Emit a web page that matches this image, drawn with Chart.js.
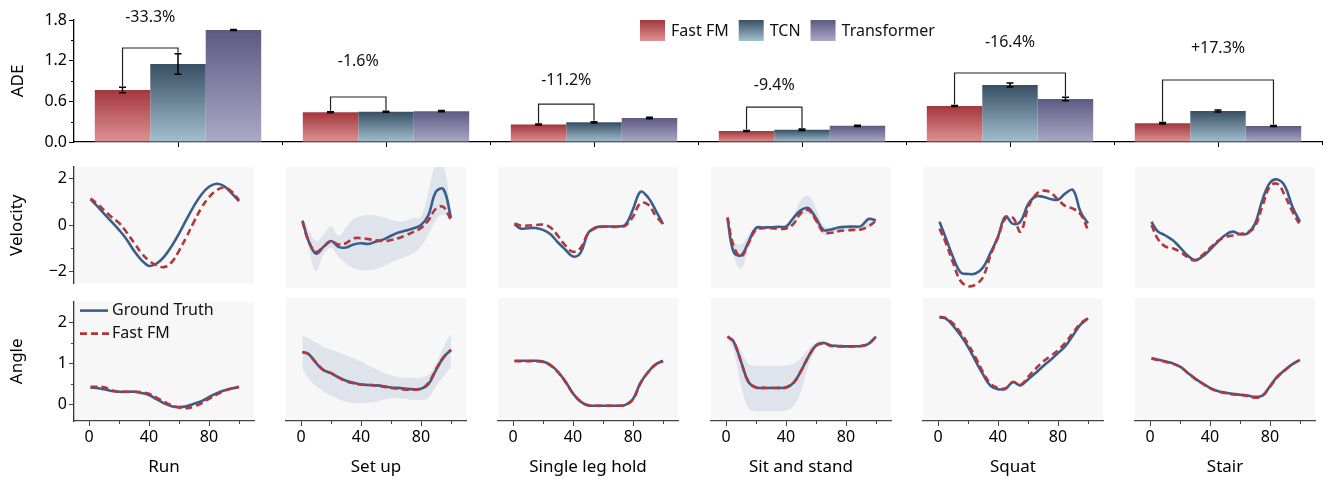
<!DOCTYPE html>
<html>
<head>
<meta charset="utf-8">
<script src="https://cdn.jsdelivr.net/npm/chart.js@4.4.1/dist/chart.umd.min.js"></script>
<style>
  body { margin: 0; background: #fff; }
  #wrap { position: relative; width: 1336px; height: 485px; overflow: hidden; }
  canvas { position: absolute; }
</style>
</head>
<body>
<div id="wrap">
  <canvas id="bars" width="1336" height="160" style="left:0;top:0"></canvas>
</div>
<script>
// ---- bar chart data (ADE) ----
var categories = ['Run', 'Set up', 'Single leg hold', 'Sit and stand', 'Squat', 'Stair'];
var methods = ['Fast FM', 'TCN', 'Transformer'];
var fastFM = [0.767, 0.44, 0.258, 0.163, 0.531, 0.277];
var tcn = [1.151, 0.447, 0.29, 0.18, 0.841, 0.457];
var transformer = [1.652, 0.455, 0.355, 0.238, 0.634, 0.236];
var fastFMErr = [0.04, 0.008, 0.008, 0.008, 0.008, 0.01];
var tcnErr = [0.15, 0.008, 0.01, 0.01, 0.03, 0.015];
var transformerErr = [0.006, 0.008, 0.012, 0.008, 0.025, 0.008];
var yTicksTop = [0, 0.6, 1.2, 1.8];
// which bar Fast FM is compared with, and the change written above the bracket
var compareWith = [1, 1, 1, 1, 2, 2];
var changeLabels = ['-33.3%', '-1.6%', '-11.2%', '-9.4%', '-16.4%', '+17.3%'];
var bracketLevel = [1.387, 0.664, 0.56, 0.516, 1.018, 0.915];
var labelLevel = [1.844, 1.195, 0.915, 0.84, 1.475, 1.387];

// ---- trajectories (% of motion) ----
var frame = [1, 5, 10, 15, 20, 25, 30, 35, 40, 45, 50, 55, 60, 65, 70, 75, 80, 85, 90, 95, 100];
var xTicks = [0, 40, 80];

var runVelGT = [1.11, 0.85, 0.5, 0.15, -0.2, -0.6, -1.1, -1.5, -1.75, -1.65, -1.36, -0.91, -0.36, 0.25, 0.83, 1.32, 1.65, 1.78, 1.68, 1.38, 1.03];
var runVelFM = [1.15, 0.95, 0.65, 0.35, 0.1, -0.3, -0.75, -1.2, -1.52, -1.72, -1.8, -1.6, -1.1, -0.5, 0.15, 0.75, 1.2, 1.5, 1.62, 1.45, 1.08];
var runAngGT = [0.41, 0.4, 0.37, 0.33, 0.31, 0.31, 0.31, 0.28, 0.23, 0.13, 0.03, -0.04, -0.06, -0.04, 0.02, 0.08, 0.18, 0.27, 0.34, 0.39, 0.42];
var runAngFM = [0.43, 0.43, 0.42, 0.35, 0.31, 0.31, 0.31, 0.3, 0.26, 0.17, 0.07, -0.02, -0.07, -0.09, -0.05, 0.03, 0.14, 0.24, 0.33, 0.39, 0.43];

var setupVelGT = [0.28, -0.55, -1.08, -0.8, -0.56, -0.8, -0.83, -0.7, -0.65, -0.68, -0.58, -0.49, -0.34, -0.21, -0.12, -0.03, 0.1, 0.52, 1.48, 1.58, 0.4];
var setupVelFM = [0.24, -0.55, -1.0, -0.8, -0.58, -0.7, -0.65, -0.45, -0.44, -0.48, -0.53, -0.56, -0.52, -0.44, -0.32, -0.18, -0.02, 0.3, 0.78, 0.85, 0.3];
var setupVelHi = [0.38, -0.1, -0.55, -0.3, 0.05, -0.35, 0.0, 0.35, 0.48, 0.52, 0.5, 0.42, 0.32, 0.24, 0.28, 0.38, 0.45, 1.5, 2.6, 2.6, 0.5];
var setupVelLo = [0.17, -0.8, -1.82, -1.14, -0.85, -1.2, -1.5, -1.68, -1.76, -1.76, -1.7, -1.6, -1.45, -1.32, -1.2, -1.05, -0.78, -0.3, 0.3, 0.55, 0.24];
var setupAngGT = [1.23, 1.18, 0.97, 0.8, 0.73, 0.63, 0.55, 0.5, 0.46, 0.45, 0.44, 0.42, 0.39, 0.38, 0.36, 0.35, 0.36, 0.47, 0.8, 1.1, 1.28];
var setupAngFM = [1.22, 1.18, 0.98, 0.8, 0.73, 0.63, 0.54, 0.49, 0.46, 0.45, 0.44, 0.41, 0.38, 0.36, 0.34, 0.34, 0.36, 0.5, 0.82, 1.1, 1.27];
var setupAngHi = [1.63, 1.55, 1.45, 1.35, 1.28, 1.22, 1.15, 1.08, 1.0, 0.9, 0.82, 0.74, 0.68, 0.64, 0.62, 0.62, 0.62, 0.7, 0.95, 1.35, 1.67];
var setupAngLo = [0.84, 0.6, 0.42, 0.3, 0.2, 0.12, 0.05, 0.02, 0.02, 0.03, 0.05, 0.1, 0.13, 0.13, 0.12, 0.1, 0.1, 0.15, 0.42, 0.65, 0.88];

var legVelGT = [0.14, -0.04, -0.03, -0.02, -0.1, -0.28, -0.62, -0.92, -1.2, -1.05, -0.24, 0.0, 0.04, 0.04, 0.04, 0.12, 0.75, 1.48, 1.25, 0.72, 0.14];
var legVelFM = [0.17, 0.08, 0.08, 0.1, 0.12, 0.0, -0.35, -0.75, -1.0, -0.85, -0.25, -0.02, 0.03, 0.03, 0.03, 0.08, 0.45, 1.0, 0.95, 0.5, 0.14];
var legAngGT = [1.02, 1.02, 1.02, 1.02, 1.0, 0.92, 0.76, 0.53, 0.25, 0.06, -0.03, -0.04, -0.04, -0.04, -0.04, -0.02, 0.12, 0.5, 0.75, 0.93, 1.02];
var legAngFM = [1.01, 1.01, 1.01, 1.01, 0.99, 0.91, 0.75, 0.52, 0.25, 0.06, -0.03, -0.04, -0.04, -0.04, -0.04, -0.02, 0.11, 0.49, 0.75, 0.93, 1.01];

var sitVelGT = [0.38, -1.0, -1.15, -0.6, -0.02, 0.0, 0.01, 0.03, 0.04, 0.4, 0.72, 0.8, 0.38, -0.1, -0.08, 0.0, 0.03, 0.04, 0.06, 0.35, 0.3];
var sitVelFM = [0.42, -0.75, -1.2, -0.65, -0.1, -0.03, -0.03, -0.05, -0.04, 0.15, 0.6, 0.72, 0.3, -0.2, -0.22, -0.15, -0.12, -0.1, -0.08, 0.05, 0.27];
var sitVelHi = [0.42, -0.55, -0.7, -0.3, 0.04, 0.05, 0.05, 0.06, 0.1, 0.5, 1.15, 1.3, 0.8, 0.1, -0.01, 0.05, 0.06, 0.07, 0.1, 0.4, 0.35];
var sitVelLo = [0.33, -1.15, -1.7, -0.85, -0.15, -0.06, -0.05, -0.06, -0.05, 0.1, 0.45, 0.55, 0.15, -0.28, -0.25, -0.16, -0.13, -0.11, -0.08, 0.0, 0.25];
var sitAngGT = [1.59, 1.48, 1.0, 0.52, 0.39, 0.38, 0.38, 0.38, 0.39, 0.5, 0.78, 1.12, 1.38, 1.44, 1.38, 1.37, 1.36, 1.36, 1.37, 1.42, 1.59];
var sitAngFM = [1.59, 1.47, 1.0, 0.52, 0.39, 0.38, 0.38, 0.38, 0.39, 0.5, 0.78, 1.12, 1.37, 1.43, 1.37, 1.36, 1.36, 1.36, 1.37, 1.42, 1.58];
var sitAngHi = [1.6, 1.52, 1.25, 0.95, 0.91, 0.9, 0.9, 0.9, 0.91, 0.95, 1.1, 1.3, 1.45, 1.5, 1.42, 1.39, 1.38, 1.38, 1.39, 1.45, 1.62];
var sitAngLo = [1.56, 1.25, 0.45, -0.1, -0.17, -0.17, -0.17, -0.17, -0.15, -0.05, 0.3, 0.9, 1.3, 1.4, 1.35, 1.34, 1.33, 1.33, 1.34, 1.39, 1.56];

var squatVelGT = [0.24, -0.4, -1.22, -1.85, -1.92, -1.9, -1.65, -1.05, -0.38, 0.45, 0.15, 0.25, 0.95, 1.28, 1.27, 1.18, 1.15, 1.41, 1.55, 0.65, 0.17];
var squatVelFM = [-0.05, -0.6, -1.45, -2.2, -2.42, -2.36, -2.05, -1.15, -0.4, 0.38, 0.4, -0.17, 0.8, 1.35, 1.52, 1.45, 1.15, 0.88, 0.78, 0.55, -0.1];
var squatAngGT = [2.04, 2.02, 1.85, 1.62, 1.35, 1.02, 0.7, 0.43, 0.35, 0.36, 0.52, 0.44, 0.58, 0.73, 0.89, 1.04, 1.2, 1.37, 1.62, 1.87, 2.02];
var squatAngFM = [2.06, 2.03, 1.9, 1.68, 1.42, 1.1, 0.75, 0.48, 0.38, 0.37, 0.52, 0.45, 0.64, 0.83, 1.0, 1.13, 1.27, 1.45, 1.68, 1.9, 2.02];

var stairVelGT = [0.24, -0.15, -0.32, -0.52, -0.82, -1.15, -1.35, -1.2, -0.92, -0.6, -0.32, -0.17, -0.28, -0.24, 0.15, 1.15, 1.85, 1.98, 1.7, 0.85, 0.24];
var stairVelFM = [0.1, -0.45, -0.78, -0.86, -1.0, -1.22, -1.36, -1.14, -0.85, -0.57, -0.4, -0.33, -0.27, -0.2, 0.05, 0.9, 1.7, 1.8, 1.3, 0.65, 0.1];
var stairAngGT = [1.08, 1.05, 1.01, 0.96, 0.88, 0.74, 0.6, 0.49, 0.38, 0.31, 0.27, 0.24, 0.22, 0.2, 0.17, 0.2, 0.42, 0.65, 0.8, 0.94, 1.04];
var stairAngFM = [1.07, 1.04, 1.0, 0.95, 0.88, 0.74, 0.6, 0.48, 0.37, 0.3, 0.26, 0.23, 0.22, 0.19, 0.15, 0.19, 0.41, 0.64, 0.8, 0.94, 1.04];

var velocityPanels = [
  { gt: runVelGT, fm: runVelFM },
  { gt: setupVelGT, fm: setupVelFM, hi: setupVelHi, lo: setupVelLo },
  { gt: legVelGT, fm: legVelFM },
  { gt: sitVelGT, fm: sitVelFM, hi: sitVelHi, lo: sitVelLo },
  { gt: squatVelGT, fm: squatVelFM },
  { gt: stairVelGT, fm: stairVelFM }
];
var anglePanels = [
  { gt: runAngGT, fm: runAngFM },
  { gt: setupAngGT, fm: setupAngFM, hi: setupAngHi, lo: setupAngLo },
  { gt: legAngGT, fm: legAngFM },
  { gt: sitAngGT, fm: sitAngFM, hi: sitAngHi, lo: sitAngLo },
  { gt: squatAngGT, fm: squatAngFM },
  { gt: stairAngGT, fm: stairAngFM }
];

// ---- styles ----
var FONT = "'Noto Sans', 'Open Sans', sans-serif";
Chart.defaults.font.family = FONT;
Chart.defaults.color = '#000';
var topColors = ['#a2373d', '#384f63', '#5c5a82'];
var botColors = ['#df9294', '#a2c0d0', '#aba9c6'];
var blue = '#3a5e8c', red = '#b3363b', bandColor = 'rgba(190,200,220,0.42)';
var colLeft = [74, 286, 498, 711, 923, 1135];

function barFill(k) {
  return function (c) {
    var chart = c.chart, y = chart.scales.y;
    if (c.type !== 'data' || !y) return topColors[k];
    var top = y.getPixelForValue(c.raw), bot = y.getPixelForValue(0);
    if (!isFinite(top) || bot - top < 1) return topColors[k];
    var g = chart.ctx.createLinearGradient(0, top, 0, bot);
    g.addColorStop(0, topColors[k]);
    g.addColorStop(1, botColors[k]);
    return g;
  };
}

var barDecor = {
  id: 'barDecor',
  afterDatasetsDraw: function (chart) {
    var ctx = chart.ctx, ys = chart.scales.y, area = chart.chartArea;
    var series = [fastFM, tcn, transformer], errs = [fastFMErr, tcnErr, transformerErr];
    ctx.save();
    // minor ticks
    ctx.strokeStyle = '#000';
    ctx.lineWidth = 1;
    ctx.beginPath();
    var step = (area.right - area.left) / categories.length;
    for (var k = 1; k <= categories.length; k++) {
      var px = Math.round(area.left + k * step) + 0.5;
      ctx.moveTo(px, area.bottom); ctx.lineTo(px, area.bottom + 3);
    }
    [0.3, 0.9, 1.5].forEach(function (v) {
      var py = Math.round(ys.getPixelForValue(v)) + 0.5;
      ctx.moveTo(area.left, py); ctx.lineTo(area.left - 3, py);
    });
    ctx.stroke();
    // error bars
    ctx.lineWidth = 1.5;
    series.forEach(function (vals, i) {
      var meta = chart.getDatasetMeta(i);
      vals.forEach(function (v, j) {
        var bx = meta.data[j].x;
        var t = ys.getPixelForValue(v + errs[i][j]), b = ys.getPixelForValue(v - errs[i][j]);
        ctx.beginPath();
        ctx.moveTo(bx, t); ctx.lineTo(bx, b);
        ctx.moveTo(bx - 3.5, t); ctx.lineTo(bx + 3.5, t);
        ctx.moveTo(bx - 3.5, b); ctx.lineTo(bx + 3.5, b);
        ctx.stroke();
      });
    });
    // brackets with relative change
    ctx.lineWidth = 1.2;
    ctx.strokeStyle = '#222';
    ctx.fillStyle = '#111';
    ctx.font = '16px ' + FONT;
    ctx.textAlign = 'center';
    ctx.textBaseline = 'middle';
    categories.forEach(function (cat, j) {
      var k = compareWith[j];
      var x1 = chart.getDatasetMeta(0).data[j].x, x2 = chart.getDatasetMeta(k).data[j].x;
      var yb = ys.getPixelForValue(bracketLevel[j]);
      var y1 = ys.getPixelForValue(series[0][j] + errs[0][j]) - 1;
      var y2 = ys.getPixelForValue(series[k][j] + errs[k][j]) - 1;
      ctx.beginPath();
      ctx.moveTo(x1, y1); ctx.lineTo(x1, yb); ctx.lineTo(x2, yb); ctx.lineTo(x2, y2);
      ctx.stroke();
      ctx.fillText(changeLabels[j], (x1 + x2) / 2, ys.getPixelForValue(labelLevel[j]));
    });
    // legend
    ctx.textAlign = 'left';
    var lx = 640;
    methods.forEach(function (name, i) {
      var g = ctx.createLinearGradient(0, 20, 0, 41);
      g.addColorStop(0, topColors[i]);
      g.addColorStop(1, botColors[i]);
      ctx.fillStyle = g;
      ctx.fillRect(lx, 20, 25, 21);
      ctx.fillStyle = '#111';
      ctx.fillText(name, lx + 31, 31);
      lx += 31 + ctx.measureText(name).width + 10;
    });
    ctx.restore();
  }
};

new Chart(document.getElementById('bars'), {
  type: 'bar',
  data: {
    labels: categories,
    datasets: [fastFM, tcn, transformer].map(function (vals, i) {
      return {
        label: methods[i], data: vals, backgroundColor: barFill(i), borderWidth: 0,
        barPercentage: 1, categoryPercentage: 0.8
      };
    })
  },
  options: {
    responsive: false, animation: false, events: [],
    layout: { padding: { top: 20, right: 14, left: 0, bottom: 0 } },
    plugins: { legend: { display: false }, tooltip: { enabled: false } },
    scales: {
      x: {
        ticks: { display: false },
        grid: { offset: false, drawOnChartArea: false, drawTicks: true, tickLength: 5, color: '#000' },
        border: { display: true, color: '#000', width: 1.3 },
        afterFit: function (s) { s.height = 18; }
      },
      y: {
        min: 0, max: 1.8,
        afterBuildTicks: function (s) { s.ticks = yTicksTop.map(function (v) { return { value: v }; }); },
        ticks: { font: { size: 16 }, color: '#000', padding: 2, callback: function (v) { return v.toFixed(1); } },
        grid: { drawOnChartArea: false, drawTicks: true, tickLength: 5, color: '#000' },
        border: { display: true, color: '#000', width: 1.3 },
        title: { display: true, text: 'ADE', font: { size: 17 }, color: '#000', padding: { top: 8, bottom: 0 } },
        afterFit: function (s) { s.width = 74; }
      }
    }
  },
  plugins: [barDecor]
});

// ---- trajectory panels ----
function pts(arr) {
  return arr.map(function (v, i) { return { x: frame[i], y: v }; });
}

function makePanel(c, r, set) {
  var wrap = document.getElementById('wrap');
  var cv = document.createElement('canvas');
  var top = r === 0 ? 155 : 290, h = r === 0 ? 140 : 195;
  cv.width = 262; cv.height = h;
  cv.style.left = (colLeft[c] - 74) + 'px';
  cv.style.top = top + 'px';
  wrap.appendChild(cv);

  var ds = [];
  if (set.hi) {
    ds.push({ data: pts(set.hi), borderWidth: 0, pointRadius: 0, tension: 0.4, backgroundColor: bandColor, fill: '+1', order: 2 });
    ds.push({ data: pts(set.lo), borderWidth: 0, pointRadius: 0, tension: 0.4, fill: false, order: 2 });
  }
  ds.push({ data: pts(set.gt), borderColor: blue, borderWidth: 2.6, pointRadius: 0, tension: 0.4, fill: false, order: 1 });
  ds.push({ data: pts(set.fm), borderColor: red, borderWidth: 2.6, borderDash: [7, 4], pointRadius: 0, tension: 0.4, fill: false, order: 0 });

  var yTicks = r === 0 ? [-2, 0, 2] : [0, 1, 2];
  var yMinor = r === 0 ? [-1, 1] : [0.5, 1.5];
  var showX = r === 1, showY = c === 0;

  var panelDecor = {
    id: 'panelDecor',
    beforeDraw: function (chart) {
      var a = chart.chartArea, ctx = chart.ctx;
      ctx.save();
      ctx.fillStyle = '#f7f7f7';
      ctx.fillRect(a.left, a.top, a.right - a.left, a.bottom - a.top);
      ctx.restore();
    },
    afterDraw: function (chart) {
      var a = chart.chartArea, ctx = chart.ctx;
      ctx.save();
      ctx.strokeStyle = '#444';
      ctx.lineWidth = 1;
      ctx.beginPath();
      if (showY) {
        yMinor.forEach(function (v) {
          var py = Math.round(chart.scales.y.getPixelForValue(v)) + 0.5;
          ctx.moveTo(a.left, py); ctx.lineTo(a.left - 3, py);
        });
      }
      if (showX) {
        [20, 60, 100].forEach(function (v) {
          var px = Math.round(chart.scales.x.getPixelForValue(v)) + 0.5;
          ctx.moveTo(px, a.bottom); ctx.lineTo(px, a.bottom + 3);
        });
      }
      ctx.stroke();
      if (showX && showY) {
        ctx.lineWidth = 2.6;
        ctx.strokeStyle = blue;
        ctx.beginPath(); ctx.moveTo(a.left + 6, a.top + 9); ctx.lineTo(a.left + 34, a.top + 9); ctx.stroke();
        ctx.strokeStyle = red;
        ctx.setLineDash([7, 4]);
        ctx.beginPath(); ctx.moveTo(a.left + 6, a.top + 32); ctx.lineTo(a.left + 35, a.top + 32); ctx.stroke();
        ctx.fillStyle = '#111';
        ctx.font = '16px ' + FONT;
        ctx.textBaseline = 'middle';
        ctx.fillText('Ground Truth', a.left + 38, a.top + 9);
        ctx.fillText('Fast FM', a.left + 38, a.top + 32);
      }
      ctx.restore();
    }
  };

  var xScale = {
    type: 'linear', min: -10, max: 110, display: showX,
    afterBuildTicks: function (s) { s.ticks = xTicks.map(function (v) { return { value: v }; }); },
    ticks: { font: { size: 16 }, color: '#000', padding: 2, maxRotation: 0 },
    grid: { drawOnChartArea: false, drawTicks: true, tickLength: 5, color: '#444' },
    border: { display: true, color: '#444', width: 1.3 },
    title: { display: true, text: categories[c], font: { size: 17 }, color: '#000', padding: { top: 0, bottom: 8 } }
  };
  if (showX) xScale.afterFit = function (s) { s.height = 64; };

  var yScale = {
    min: r === 0 ? -2.5 : -0.4, max: 2.5, display: showY,
    afterBuildTicks: function (s) { s.ticks = yTicks.map(function (v) { return { value: v }; }); },
    ticks: { font: { size: 16 }, color: '#000', padding: 2,
      callback: function (v) { return v < 0 ? '\u2212' + (-v) : String(v); } },
    grid: { drawOnChartArea: false, drawTicks: true, tickLength: 5, color: '#444' },
    border: { display: true, color: '#333', width: 1.3 },
    title: { display: true, text: r === 0 ? 'Velocity' : 'Angle', font: { size: 17 }, color: '#000', padding: { top: 7, bottom: 0 } }
  };
  if (showY) yScale.afterFit = function (s) { s.width = 74; };

  new Chart(cv, {
    type: 'line',
    data: { datasets: ds },
    options: {
      responsive: false, animation: false, events: [],
      layout: { padding: { left: showY ? 0 : 74, right: 8, top: r === 0 ? 12 : 8, bottom: r === 0 ? 7 : 0 } },
      plugins: { legend: { display: false }, tooltip: { enabled: false } },
      scales: { x: xScale, y: yScale }
    },
    plugins: [panelDecor]
  });
}

velocityPanels.forEach(function (set, c) { makePanel(c, 0, set); });
anglePanels.forEach(function (set, c) { makePanel(c, 1, set); });
</script>
</body>
</html>
